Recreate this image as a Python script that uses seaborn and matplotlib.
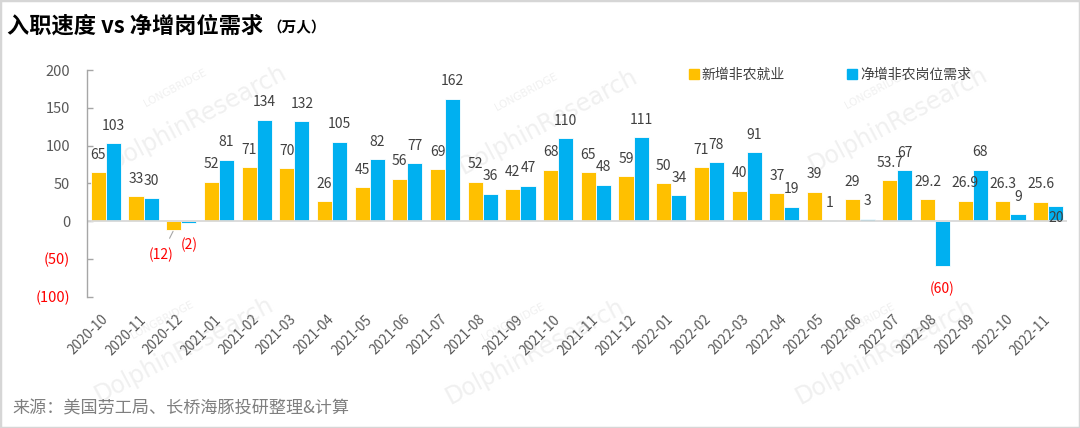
import matplotlib
matplotlib.use("Agg")
import matplotlib.pyplot as plt
import pandas as pd
import seaborn as sns
from matplotlib.lines import Line2D
from matplotlib.patches import Rectangle

# ---------------- data ----------------
months = ["2020-10", "2020-11", "2020-12",
          "2021-01", "2021-02", "2021-03", "2021-04", "2021-05", "2021-06",
          "2021-07", "2021-08", "2021-09", "2021-10", "2021-11", "2021-12",
          "2022-01", "2022-02", "2022-03", "2022-04", "2022-05", "2022-06",
          "2022-07", "2022-08", "2022-09", "2022-10", "2022-11"]
new_nonfarm = [65, 33, -12, 52, 71, 70, 26, 45, 56, 69, 52, 42, 68, 65, 59,
               50, 71, 40, 37, 39, 29, 53.7, 29.2, 26.9, 26.3, 25.6]
job_demand = [103, 30, -2, 81, 134, 132, 105, 82, 77, 162, 36, 47, 110, 48, 111,
              34, 78, 91, 19, 1, 3, 67, -60, 68, 9, 20]
series_names = ["新增非农就业", "净增非农岗位需求"]
y_ticks = [-100, -50, 0, 50, 100, 150, 200]
y_tick_labels = ["(100)", "(50)", "0", "50", "100", "150", "200"]
title_text = "入职速度 vs 净增岗位需求"
unit_text = "（万人）"
source_text = "来源：美国劳工局、长桥海豚投研整理&计算"

# ---------------- style ----------------
sns.set_theme(style="white")
plt.rcParams["font.family"] = ["Noto Sans CJK SC", "DejaVu Sans"]
plt.rcParams["axes.unicode_minus"] = False

YELLOW = "#FFC000"
BLUE = "#00B0F0"
GREY_TXT = "#595959"
LABEL_TXT = "#404040"
RED = "#FF0000"

n = len(months)
df = pd.DataFrame({
    "month": months * 2,
    "value": new_nonfarm + job_demand,
    "series": [series_names[0]] * n + [series_names[1]] * n,
})

W, H = 1080, 428
fig = plt.figure(figsize=(W / 100, H / 100), dpi=100)
fig.patch.set_facecolor("white")

# watermarks (faint, behind everything)
for cx, cy in [(197, 118), (548, 122), (898, 120), (184, 350), (535, 352), (885, 352)]:
    fig.text(cx / W, 1 - cy / H, "DolphinResearch", fontsize=17, color="#F0F0F0",
             rotation=28, ha="center", va="center", zorder=-2, family=["DejaVu Sans"])
    fig.text((cx - 22) / W, 1 - (cy - 30) / H, "LONGBRIDGE", fontsize=7.5, color="#F0F0F0",
             rotation=28, ha="center", va="center", zorder=-2, family=["DejaVu Sans"])

ax = fig.add_axes([87 / W, 1 - 296.5 / H, 980 / W, 226.5 / H])
ax.set_facecolor("none")

sns.barplot(data=df, x="month", y="value", hue="series", order=months,
            hue_order=series_names, palette=[YELLOW, BLUE], saturation=1,
            width=0.8, edgecolor="white", linewidth=0.6, ax=ax, legend=False,
            errorbar=None)

ax.set_ylim(-100, 200)
ax.set_xlim(-0.5, n - 0.5)
ax.set_xlabel("")
ax.set_ylabel("")
for s in ["top", "right", "bottom"]:
    ax.spines[s].set_visible(False)
ax.spines["left"].set_color("#A6A6A6")
ax.spines["left"].set_linewidth(1.0)
ax.axhline(0, color="#D9D9D9", lw=1.3, zorder=1)

ax.set_yticks(y_ticks)
ax.set_yticklabels(y_tick_labels)
ax.tick_params(axis="y", direction="in", length=4, width=1, color="#A6A6A6",
               labelsize=10.5, pad=12, left=True)
for t, v in zip(ax.get_yticklabels(), y_ticks):
    t.set_color(RED if v < 0 else GREY_TXT)

ax.tick_params(axis="x", length=0, labelsize=9.8, labelcolor=GREY_TXT, pad=15)
for t in ax.get_xticklabels():
    t.set_rotation(45)
    t.set_ha("right")
    t.set_va("center")
    t.set_rotation_mode("anchor")

# ---------------- data labels ----------------
def fmt(v):
    s = f"{abs(v):g}"
    return f"({s})" if v < 0 else s

for ci, container in enumerate(ax.containers):
    vals = new_nonfarm if ci == 0 else job_demand
    for i, (p, v) in enumerate(zip(container.patches, vals)):
        x = p.get_x() + p.get_width() / 2
        color = RED if v < 0 else LABEL_TXT
        kw = dict(ha="center", va="center", fontsize=10, color=color,
                  textcoords="offset points", annotation_clip=False)
        if ci == 0 and months[i] == "2020-12":
            ax.annotate(fmt(v), xy=(x, v), xytext=(-9, -18), **kw,
                        arrowprops=dict(arrowstyle="-", color="#A6A6A6", lw=0.8,
                                        shrinkA=5, shrinkB=1))
        elif ci == 1 and months[i] == "2022-11":
            ax.annotate(fmt(v), xy=(x, v), xytext=(0, -9), **kw)
        elif v < 0:
            ax.annotate(fmt(v), xy=(x, v), xytext=(0, -16), **kw)
        else:
            ax.annotate(fmt(v), xy=(x, v), xytext=(0, 12.5), **kw)

# ---------------- legend ----------------
handles = [Line2D([], [], marker="s", linestyle="none", markersize=7.5,
                  markerfacecolor=c, markeredgecolor=c) for c in (YELLOW, BLUE)]
fig.legend(handles, series_names, loc="center left",
           bbox_to_anchor=(688 / W, 1 - 75 / H), ncol=2, frameon=False,
           handlelength=0.8, handletextpad=0.2, columnspacing=4.4,
           borderaxespad=0, borderpad=0, fontsize=10, labelcolor=LABEL_TXT)

# ---------------- titles ----------------
t = fig.text(7 / W, 1 - 26 / H, title_text, fontsize=16, fontweight="bold",
             color="#000000", ha="left", va="center")
fig.canvas.draw()
ax.annotate(unit_text, xy=(1, 0.5), xycoords=t, xytext=(3, -1),
            textcoords="offset points", fontsize=10.5, fontweight="bold",
            color="#000000", ha="left", va="center", annotation_clip=False)

fig.text(12 / W, 1 - 408 / H, source_text, fontsize=12.3, color="#7F7F7F",
         ha="left", va="center")

# frame around the image
fig.patches.append(Rectangle((0, 0), 1, 1, transform=fig.transFigure, fill=False,
                             edgecolor="#D6D6D6", linewidth=2.5, zorder=10))

fig.savefig("out.png", dpi=100, facecolor="white")
